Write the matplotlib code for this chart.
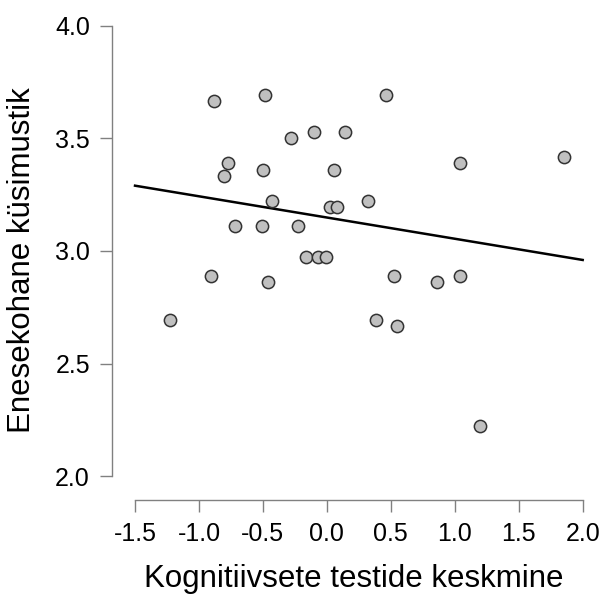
import matplotlib
matplotlib.use("Agg")
import matplotlib.pyplot as plt
import numpy as np

plt.rcParams["font.family"] = ["Liberation Sans", "DejaVu Sans"]

# cognitive test mean (x) vs self-report questionnaire (y)
kognitiivsed = [-0.884, -0.483, 0.464, -0.282, -0.099, 0.141, -0.772, -0.801,
                -0.501, 0.057, 1.040, 1.852, -0.431, 0.026, 0.078, 0.323,
                -0.720, -0.504, -0.225, -0.164, -0.073, -0.008, -0.903, -0.462,
                0.521, 0.861, 1.038, -1.229, 0.386, 0.545, 1.200]
enesekohane = [3.667, 3.694, 3.694, 3.500, 3.528, 3.528, 3.389, 3.333,
               3.361, 3.361, 3.389, 3.417, 3.222, 3.194, 3.194, 3.222,
               3.111, 3.111, 3.111, 2.972, 2.972, 2.972, 2.889, 2.861,
               2.889, 2.861, 2.889, 2.694, 2.694, 2.667, 2.222]

x_ticks = [-1.5, -1.0, -0.5, 0.0, 0.5, 1.0, 1.5, 2.0]
y_ticks = [2.0, 2.5, 3.0, 3.5, 4.0]

x = np.array(kognitiivsed)
y = np.array(enesekohane)
slope, intercept = np.polyfit(x, y, 1)

fig = plt.figure(figsize=(6.03, 5.94), dpi=100)
W, H = 603, 594
left, right, bottom, top = 111.5, 595, 499.5, 20
ax = fig.add_axes([left / W, 1 - bottom / H, (right - left) / W, (bottom - top) / H])

# pixel calibration of data range
px_per_x = 127.8
px_per_y = 225.3
ax.set_xlim(-1.5 - (135 - left) / px_per_x, 2.0 + (right - 582.7) / px_per_x)
ax.set_ylim(4.0 - (bottom - 25.7) / px_per_y, 4.0 + (25.7 - top) / px_per_y)

xl = np.array([-1.5, 2.0])
ax.plot(xl, intercept + slope * xl, color="black", linewidth=1.8, zorder=2)
ax.scatter(x, y, s=78, facecolor="#c0c0c0", edgecolor="#333333",
           linewidth=1.1, zorder=3)

for s in ["top", "right"]:
    ax.spines[s].set_visible(False)
ax.spines["left"].set_bounds(2.0, 4.0)
ax.spines["bottom"].set_bounds(-1.5, 2.0)
for s in ["left", "bottom"]:
    ax.spines[s].set_color("#808080")
    ax.spines[s].set_linewidth(1.0)

ax.set_xticks(x_ticks)
ax.set_xticklabels([f"{v:.1f}" for v in x_ticks])
ax.set_yticks(y_ticks)
ax.set_yticklabels([f"{v:.1f}" for v in y_ticks])
ax.tick_params(axis="both", direction="out", length=8.5, width=1.0,
               color="#808080", labelsize=18, labelcolor="black")
ax.tick_params(axis="x", pad=8)
ax.tick_params(axis="y", pad=7)

ax.set_xlabel("Kognitiivsete testide keskmine", fontsize=22.5, labelpad=13)
ax.set_ylabel("Enesekohane küsimustik", fontsize=22.5, labelpad=13)

fig.savefig("out.png", dpi=100)
